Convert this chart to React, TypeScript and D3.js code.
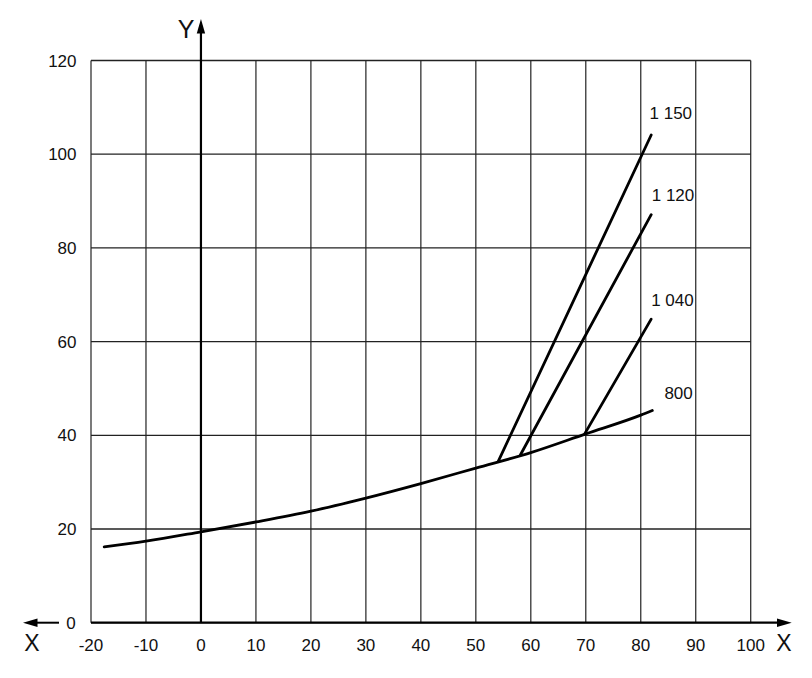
import React from "react";
import * as d3 from "d3";

const xTicks = [-20, -10, 0, 10, 20, 30, 40, 50, 60, 70, 80, 90, 100];
const yTicks = [0, 20, 40, 60, 80, 100, 120];

const curve800: [number, number][] = [
  [-17.6, 16.2], [-10, 17.4], [0, 19.4], [10, 21.5], [20, 23.8], [30, 26.6],
  [40, 29.7], [50, 33.0], [60, 36.3], [70, 40.3], [80, 44.3], [82.1, 45.3],
];
const line1150: [number, number][] = [[54.1, 34.5], [81.9, 104.1]];
const line1120: [number, number][] = [[58.1, 35.8], [81.9, 87.1]];
const line1040: [number, number][] = [[69.8, 40.3], [81.9, 64.8]];

const labels = [
  { text: "1 150", x: 81.6, y: 107.5 },
  { text: "1 120", x: 82.0, y: 90.0 },
  { text: "1 040", x: 81.9, y: 67.5 },
  { text: "800", x: 84.3, y: 47.7 },
];

const W = 812;
const H = 678;
const font = "'Liberation Sans', Arial, sans-serif";

export default function App() {
  const x = d3.scaleLinear().domain([-20, 100]).range([91, 750.7]);
  const y = d3.scaleLinear().domain([0, 120]).range([622.7, 60.5]);
  const line = d3.line<[number, number]>().x((d) => x(d[0])).y((d) => y(d[1]));
  const smooth = d3
    .line<[number, number]>()
    .x((d) => x(d[0]))
    .y((d) => y(d[1]))
    .curve(d3.curveMonotoneX);

  const x0 = x(0);
  const y0 = y(0);

  return (
    <div style={{ position: "fixed", left: 0, top: 0 }}>
      <svg width={W} height={H} style={{ display: "block", background: "#fff" }}>
        {/* grid */}
        {xTicks.map((t) => (
          <line key={"gx" + t} x1={x(t)} x2={x(t)} y1={y(0)} y2={y(120)} stroke="#333" strokeWidth={1.3} />
        ))}
        {yTicks.map((t) => (
          <line key={"gy" + t} x1={x(-20)} x2={x(100)} y1={y(t)} y2={y(t)} stroke="#222" strokeWidth={1.3} />
        ))}
        {/* axes */}
        <line x1={x(-20)} x2={778} y1={y0} y2={y0} stroke="#000" strokeWidth={2.2} />
        <path d={`M791.7,${y0} L777,${y0 - 4.2} L777,${y0 + 4.2} Z`} fill="#000" />
        <line x1={x0} x2={x0} y1={y(0)} y2={32} stroke="#000" strokeWidth={2.2} />
        <path d={`M${x0},19 L${x0 - 4.2},33.5 L${x0 + 4.2},33.5 Z`} fill="#000" />
        <line x1={36} x2={59} y1={y0} y2={y0} stroke="#000" strokeWidth={2} />
        <path d={`M23,${y0} L37.5,${y0 - 4.2} L37.5,${y0 + 4.2} Z`} fill="#000" />

        {/* tick labels */}
        {xTicks.map((t) => (
          <text key={"tx" + t} x={x(t)} y={650.5} textAnchor="middle" fontFamily={font} fontSize={17} fill="#111">
            {t}
          </text>
        ))}
        {yTicks.filter((t) => t !== 0).map((t) => (
          <text key={"ty" + t} x={76.5} y={y(t) + 6} textAnchor="end" fontFamily={font} fontSize={17} fill="#111">
            {t}
          </text>
        ))}
        <text x={71} y={y0 + 6} textAnchor="middle" fontFamily={font} fontSize={17} fill="#111">0</text>
        <text x={186} y={38} textAnchor="middle" fontFamily={font} fontSize={25} fill="#111">Y</text>
        <text x={32} y={651} textAnchor="middle" fontFamily={font} fontSize={23} fill="#111">X</text>
        <text x={784} y={651} textAnchor="middle" fontFamily={font} fontSize={23} fill="#111">X</text>

        {/* curves */}
        <path d={smooth(curve800) || ""} fill="none" stroke="#000" strokeWidth={2.8} strokeLinecap="round" />
        <path d={line(line1150) || ""} fill="none" stroke="#000" strokeWidth={2.8} strokeLinecap="round" />
        <path d={line(line1120) || ""} fill="none" stroke="#000" strokeWidth={2.8} strokeLinecap="round" />
        <path d={line(line1040) || ""} fill="none" stroke="#000" strokeWidth={2.8} strokeLinecap="round" />

        {labels.map((l) => (
          <text key={l.text} x={x(l.x)} y={y(l.y)} fontFamily={font} fontSize={17} fill="#111">
            {l.text}
          </text>
        ))}
      </svg>
    </div>
  );
}
